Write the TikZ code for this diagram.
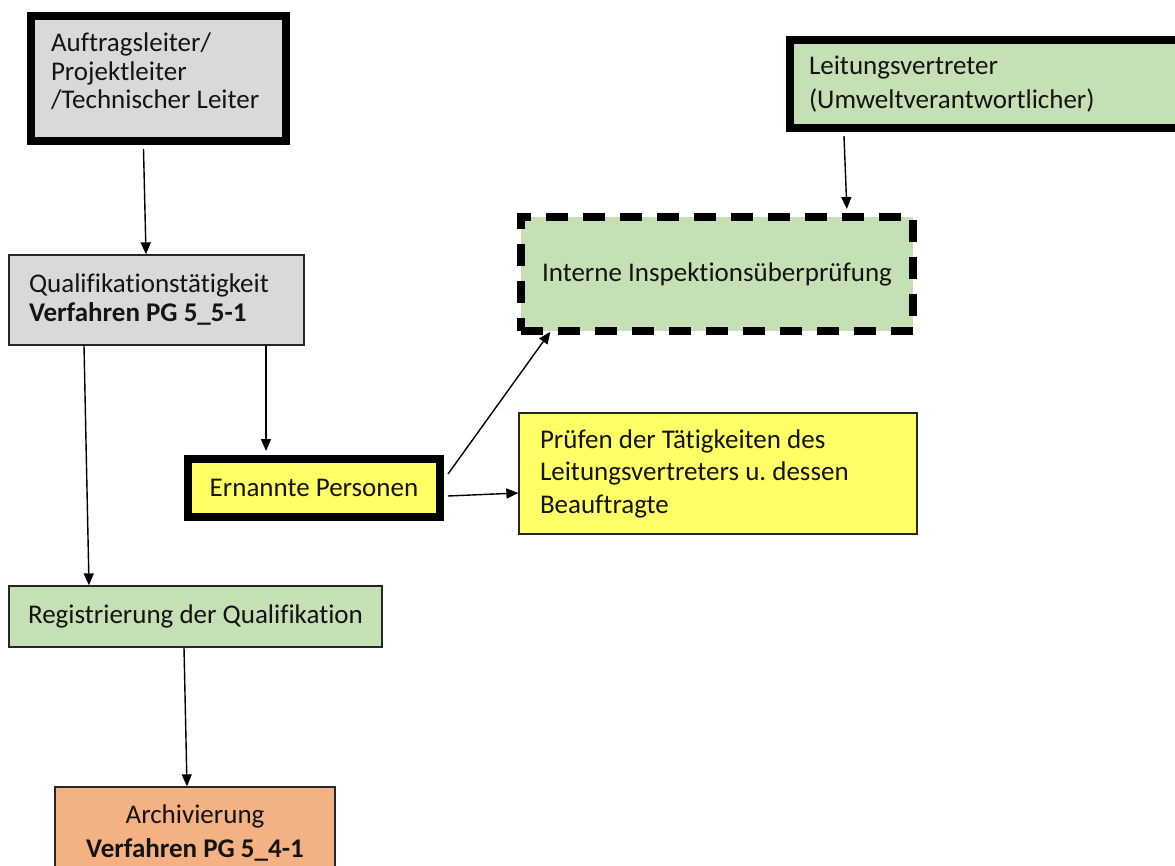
\documentclass[tikz,border=0pt]{standalone}
\usepackage{fontspec}
\setmainfont{Carlito}[Ligatures=NoCommon]
\frenchspacing
\usetikzlibrary{arrows.meta}
\definecolor{boxgray}{HTML}{D9D9D9}
\definecolor{boxgreen}{HTML}{C5E0B4}
\definecolor{boxyellow}{HTML}{FFFF66}
\definecolor{boxorange}{HTML}{F4B183}
\tikzset{
  base/.style={rectangle, inner sep=0pt, font=\fontsize{27}{28.5}\selectfont, text=black!92},
  thinbox/.style={base, draw=black!85, line width=1.3pt},
  thickbox/.style={base, draw=black, line width=8pt},
  dashbox/.style={base, draw=black, line width=8pt, dash pattern=on 22pt off 15pt},
  conn/.style={line width=1.4pt, -{Triangle[length=12pt,width=10pt]}}
}
\begin{document}
\begin{tikzpicture}[x=1pt,y=-1pt]
\clip (0,0) rectangle (1175,866);
\fill[white] (0,0) rectangle (1175,866);

% boxes
\node[thickbox, fill=boxgray, minimum width=255pt, minimum height=125pt,
      text width=215pt, align=flush left] (lead) at (158.5,78.5)
  {Auftragsleiter/\\Projektleiter\\/Technischer Leiter\rule[-15pt]{0pt}{15pt}};

\node[thinbox, fill=boxgray, minimum width=295pt, minimum height=90pt,
      text width=255pt, align=flush left, font=\fontsize{27}{29}\selectfont] (qual) at (156.5,300)
  {Qualifikationstätigkeit\\\textbf{Verfahren PG 5\_5-1}};

\node[thickbox, fill=boxgreen, minimum width=395pt, minimum height=88pt,
      text width=357pt, align=flush left, font=\fontsize{27}{34}\selectfont] (rep) at (987.5,84)
  {Leitungsvertreter\\(Umweltverantwortlicher)};

\node[dashbox, fill=boxgreen, minimum width=392pt, minimum height=114pt] (insp) at (717,274)
  {Interne Inspektionsüberprüfung};

\node[thickbox, fill=boxyellow, minimum width=252pt, minimum height=58pt] (pers) at (314,488)
  {Ernannte Personen};

\node[thinbox, fill=boxyellow, minimum width=398pt, minimum height=121pt,
      text width=356pt, align=flush left, font=\fontsize{27}{32.5}\selectfont] (check) at (718,473.5)
  {Prüfen der Tätigkeiten des\\Leitungsvertreters u. dessen\\Beauftragte};

\node[thinbox, fill=boxgreen, minimum width=373pt, minimum height=61pt] (reg) at (195.5,616.5)
  {Registrierung der Qualifikation};

\node[thinbox, fill=boxorange, minimum width=280pt, minimum height=93pt,
      align=center, font=\fontsize{27}{34}\selectfont] (arch) at (195,833.5)
  {Archivierung\\\textbf{Verfahren PG 5\_4-1}};

% connectors
\draw[conn] ([xshift=-15pt,yshift=-4pt]lead.south) -- ([xshift=-10.5pt]qual.north);
\draw[conn] ([xshift=-72.5pt]qual.south) -- ([xshift=-106.5pt]reg.north);
\draw[conn, shorten >=4pt] ([xshift=109.5pt]qual.south) -- ([xshift=-48pt]pers.north);
\draw[conn, shorten >=-4pt] ([xshift=4pt,yshift=14pt]pers.east) -- ([xshift=-169pt]insp.south);
\draw[conn] ([xshift=4pt,yshift=-8pt]pers.east) -- ([yshift=-19.5pt]check.west);
\draw[conn, shorten >=4pt] ([xshift=-143.5pt,yshift=-4pt]rep.south) -- ([xshift=130pt]insp.north);
\draw[conn] ([xshift=-11.5pt]reg.south) -- ([xshift=-8pt]arch.north);
\end{tikzpicture}
\end{document}
